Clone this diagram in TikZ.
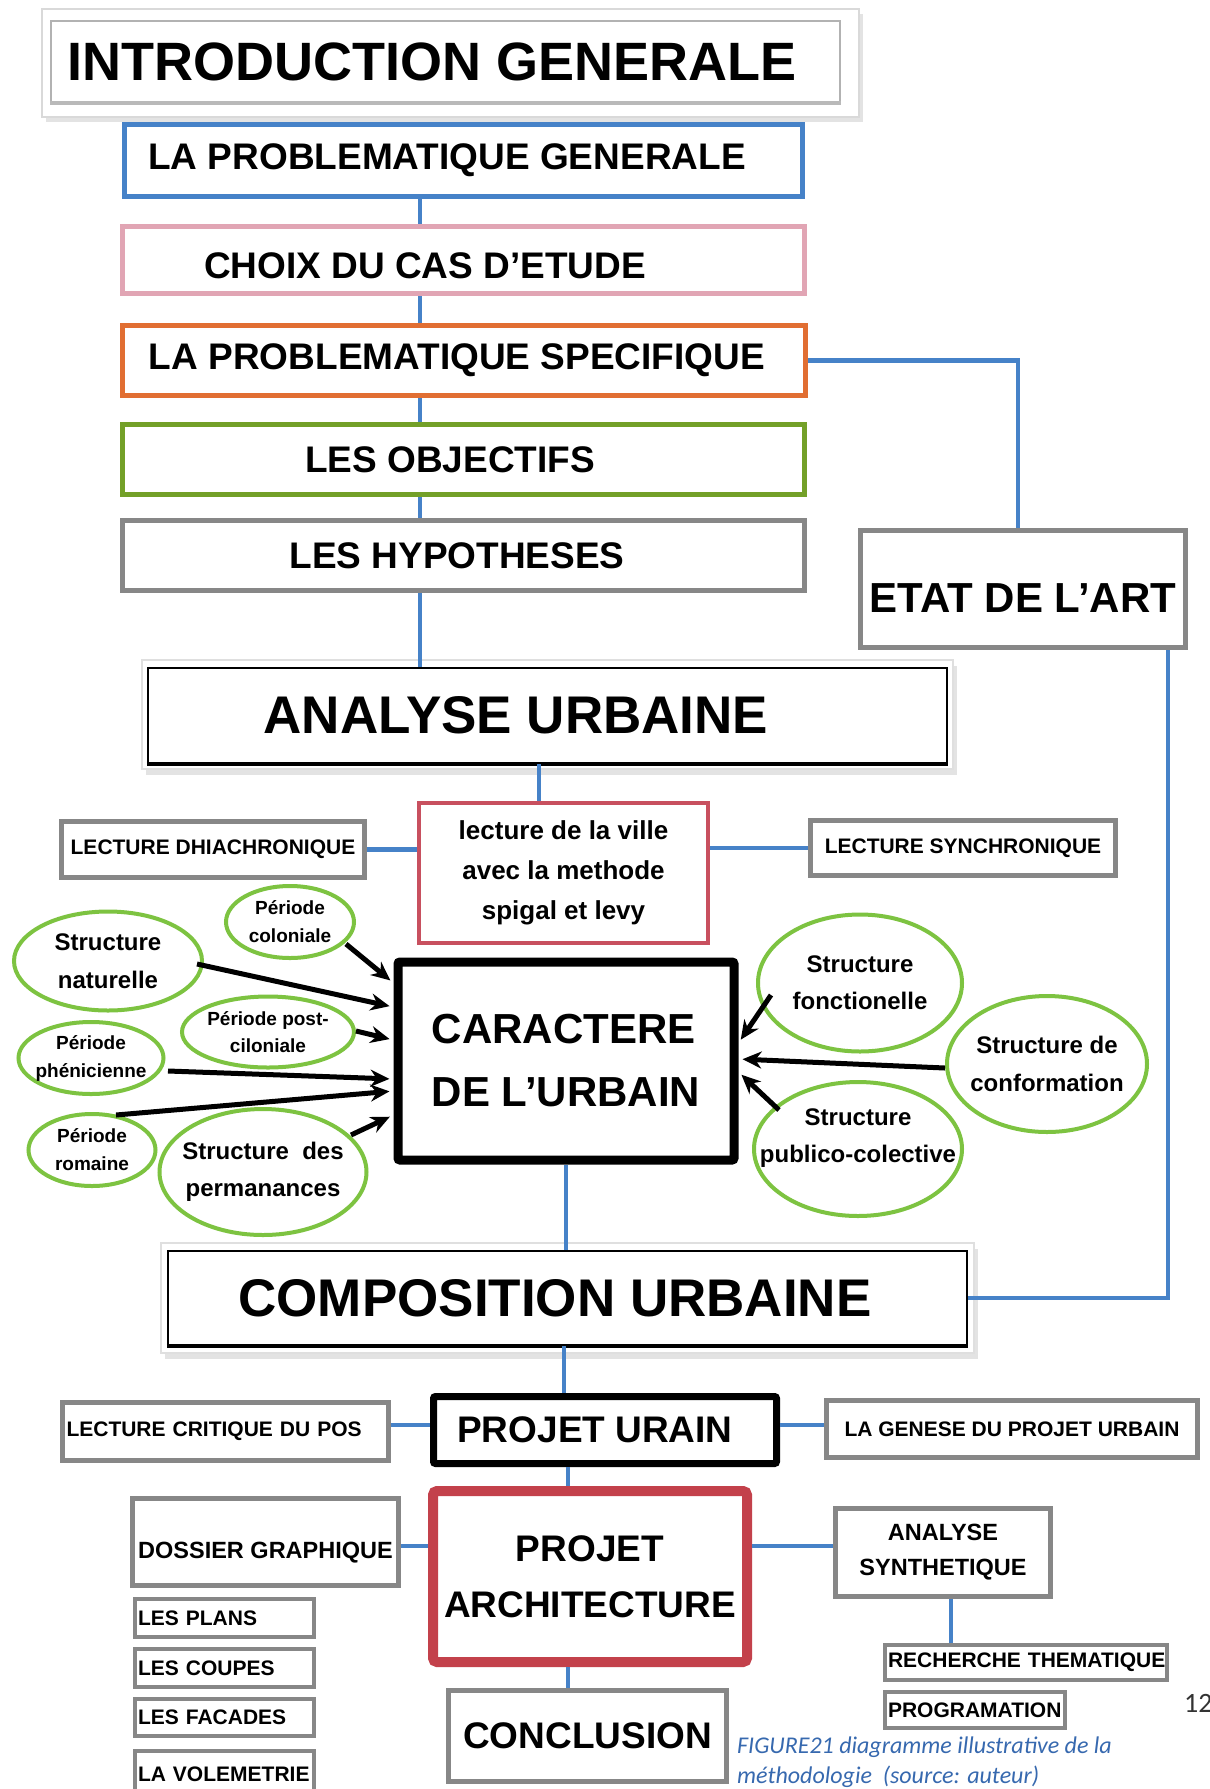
\documentclass[tikz,border=0pt]{standalone}
\usepackage{fontspec}
\setmainfont{Liberation Sans}
\newfontfamily\capfont{Carlito}
\usetikzlibrary{shapes.geometric,arrows.meta,calc}
\definecolor{cblue}{RGB}{70,130,200}
\definecolor{cpink}{RGB}{225,165,180}
\definecolor{corange}{RGB}{225,110,50}
\definecolor{cgreenb}{RGB}{115,160,40}
\definecolor{cgray}{RGB}{135,135,135}
\definecolor{credone}{RGB}{200,80,95}
\definecolor{credtwo}{RGB}{195,65,75}
\definecolor{cell}{RGB}{125,195,65}
\definecolor{ccap}{RGB}{55,105,175}
\newcommand{\myfs}[2]{\fontsize{#1}{#2}\selectfont}
\begin{document}
\begin{tikzpicture}[x=1pt,y=-1pt,
  bx/.style={rectangle,draw,fill=white,inner sep=0pt},
  link/.style={draw=cblue,line width=4.5pt},
  ell/.style={ellipse,draw=cell,line width=4pt,fill=white,inner xsep=-60pt,inner ysep=-20pt,align=center},
  arr/.style={line width=5pt,-{Stealth[length=19pt,width=17pt]},shorten >=4pt},
]
\useasboundingbox (0,0) rectangle (1210,1789);
\fill[white] (0,0) rectangle (1210,1789);

% ---------- top column ----------
\fill[gray!22] (46,14) rectangle (863,122);
\draw[gray!30,fill=white,line width=1.5pt] (42,9) rectangle (859,117);
\node[bx,draw=gray!60,line width=2pt,minimum width=789pt,minimum height=81pt,font=\bfseries\myfs{54}{60}] (intro) at (445.5,61.5) {INTRODUCTION GENERALE\hspace*{27pt}};
\draw[gray!55,line width=3.5pt] (intro.south west) -- (intro.south east);

\node[bx,draw=cblue,line width=5pt,minimum width=678pt,minimum height=72pt,font=\bfseries\myfs{37}{44}] (probgen) at (463.5,160.5) {LA PROBLEMATIQUE GENERALE\hspace*{33pt}};
\node[bx,draw=cpink,line width=5pt,minimum width=682pt,minimum height=67pt,text height=36.6pt,text depth=0pt,font=\bfseries\myfs{37}{44}] (choix) at (463.5,260) {CHOIX DU CAS D’ETUDE\hspace*{77pt}};
\node[bx,draw=corange,line width=5pt,minimum width=683pt,minimum height=70pt,font=\bfseries\myfs{37}{44}] (probspec) at (464,360.5) {LA PROBLEMATIQUE SPECIFIQUE\hspace*{14pt}};
\node[bx,draw=cgreenb,line width=5pt,minimum width=682pt,minimum height=70pt,font=\bfseries\myfs{37}{44}] (objectifs) at (463.5,459.5) {LES OBJECTIFS\hspace*{27pt}};
\node[bx,draw=cgray,line width=5pt,minimum width=682pt,minimum height=70pt,font=\bfseries\myfs{37}{44}] (hypo) at (463.5,555.5) {LES HYPOTHESES\hspace*{13pt}};
\node[bx,draw=cgray,line width=5pt,minimum width=325pt,minimum height=117pt,text height=46pt,text depth=0pt,font=\bfseries\myfs{42}{48}] (etat) at (1023,589) {ETAT DE L’ART};

% ---------- analyse urbaine ----------
\fill[gray!22] (146,666) rectangle (957,775);
\draw[gray!25,fill=white,line width=1.5pt] (142,660) rectangle (953,769);
\node[bx,draw=black,line width=2.5pt,minimum width=799pt,minimum height=95pt,font=\bfseries\myfs{53}{60}] (analyse) at (547.5,715.5) {ANALYSE URBAINE\hspace*{63pt}};
\draw[black,line width=4pt] (analyse.south west) -- (analyse.south east);

\node[bx,draw=credone,line width=4pt,minimum width=289pt,minimum height=140pt,align=center,font=\bfseries\myfs{26}{40}] (lecture) at (563.5,873) {lecture de la ville\\avec la methode\\spigal et levy};
\node[bx,draw=cgray,line width=5pt,minimum width=303pt,minimum height=56pt,font=\bfseries\myfs{21}{25}] (dhia) at (213,849.5) {LECTURE DHIACHRONIQUE};
\node[bx,draw=cgray,line width=5pt,minimum width=305pt,minimum height=55pt,font=\bfseries\myfs{21}{25}] (sync) at (963,848) {LECTURE SYNCHRONIQUE};

\node[bx,draw=black,line width=9pt,rounded corners=2pt,minimum width=336pt,minimum height=198pt,align=left,font=\bfseries\myfs{42}{63}] (car) at (566,1061) {CARACTERE\\DE L’URBAIN};

% ---------- ellipses ----------
\node[ell,minimum width=188pt,minimum height=99pt,font=\bfseries\myfs{24}{38}] (nat) at (108,961) {Structure\\naturelle};
\node[ell,minimum width=128pt,minimum height=72pt,font=\bfseries\myfs{19}{28}] (col) at (290,922) {Période\\coloniale};
\node[ell,minimum width=172pt,minimum height=71pt,font=\bfseries\myfs{19}{27}] (post) at (268,1032) {Période post-\\ciloniale};
\node[ell,minimum width=145pt,minimum height=72pt,font=\bfseries\myfs{19}{28}] (phen) at (91,1058) {Période\\phénicienne};
\node[ell,minimum width=127pt,minimum height=72pt,font=\bfseries\myfs{19}{28}] (rom) at (92,1150) {Période\\romaine};
\node[ell,minimum width=207pt,minimum height=126pt,font=\bfseries\myfs{24}{37}] (perm) at (263,1172) {Structure\ \ des\\permanances};
\node[ell,minimum width=204pt,minimum height=137pt,font=\bfseries\myfs{24}{37}] (fonc) at (860,983) {Structure\\fonctionelle};
\node[ell,minimum width=200pt,minimum height=136pt,font=\bfseries\myfs{24}{38}] (conf) at (1047,1064) {Structure de\\conformation};
\node[ell,minimum width=208pt,minimum height=134pt,font=\bfseries\myfs{24}{37}] (pub) at (858,1149) {Structure\\publico-colective\\[-10pt]\mbox{}};

% ---------- arrows ----------
\draw[arr] ([shift={(89,3)}]nat.center) -- ([shift={(0,-54)}]car.west);
\draw[arr] ([shift={(56,22)}]col.center) -- ([shift={(0,-78)}]car.west);
\draw[arr] ([shift={(88,-1)}]post.center) -- ([shift={(0,-21)}]car.west);
\draw[arr] ([shift={(77,13)}]phen.center) -- ([shift={(0,18)}]car.west);
\draw[arr] ([shift={(24,-35)}]rom.center) -- ([shift={(0,30)}]car.west);
\draw[arr] ([shift={(88,-37)}]perm.center) -- ([shift={(0,54)}]car.west);
\draw[arr] ([shift={(-89,12)}]fonc.center) -- ([shift={(0,-18)}]car.east);
\draw[arr] ([shift={(-102,4)}]conf.center) -- ([shift={(0,-2)}]car.east);
\draw[arr] ([shift={(-79,-39)}]pub.center) -- ([shift={(0,11)}]car.east);

% ---------- composition ----------
\fill[gray!22] (165,1249) rectangle (978,1359);
\draw[gray!25,fill=white,line width=1.5pt] (161,1243) rectangle (974,1353);
\node[bx,draw=black,line width=2.5pt,minimum width=799pt,minimum height=94pt,font=\bfseries\myfs{53}{60}] (compo) at (567.5,1298) {COMPOSITION URBAINE\hspace*{25pt}};
\draw[black,line width=4pt] (compo.south west) -- (compo.south east);

\node[bx,draw=black,line width=7pt,rounded corners=2pt,minimum width=343pt,minimum height=67pt,font=\bfseries\myfs{37}{44}] (urain) at (605,1430) {PROJET URAIN\hspace*{20pt}};
\node[bx,draw=cgray,line width=5pt,minimum width=326pt,minimum height=58pt,text width=318pt,inner xsep=4pt,align=left,font=\bfseries\myfs{21}{25}] (crit) at (225.5,1431.5) {\mbox{LECTURE CRITIQUE DU POS}};
\node[bx,draw=cgray,line width=5pt,minimum width=371pt,minimum height=57pt,font=\bfseries\myfs{21}{25}] (genese) at (1012,1429) {LA GENESE DU PROJET URBAIN};

\node[bx,draw=credtwo,line width=10pt,rounded corners=4pt,minimum width=314pt,minimum height=171pt,align=center,font=\bfseries\myfs{37}{56}] (archi) at (590,1576.5) {PROJET\\ARCHITECTURE};
\node[bx,draw=cgray,line width=5pt,minimum width=266pt,minimum height=87pt,text height=33pt,text depth=0pt,font=\bfseries\myfs{23.5}{28}] (dossier) at (265.5,1542) {DOSSIER GRAPHIQUE};
\node[bx,draw=cgray,line width=4pt,minimum width=179pt,minimum height=38pt,text width=173pt,inner xsep=3pt,align=left,font=\bfseries\myfs{21}{25}] (plans) at (224.5,1618) {\mbox{LES PLANS}};
\node[bx,draw=cgray,line width=4pt,minimum width=179pt,minimum height=38pt,text width=173pt,inner xsep=3pt,align=left,font=\bfseries\myfs{21}{25}] (coupes) at (224.5,1668) {\mbox{LES COUPES}};
\node[bx,draw=cgray,line width=4pt,minimum width=179pt,minimum height=37pt,text width=173pt,inner xsep=3pt,align=left,font=\bfseries\myfs{21}{25}] (facades) at (224.5,1717.5) {\mbox{LES FACADES}};
\node[bx,draw=cgray,line width=4pt,minimum width=179pt,minimum height=46pt,text width=173pt,inner xsep=3pt,align=left,font=\bfseries\myfs{21}{25}] (volem) at (224.5,1774) {\mbox{LA VOLEMETRIE}};

\node[bx,draw=cgray,line width=5pt,minimum width=215pt,minimum height=88pt,align=center,font=\bfseries\myfs{23.5}{35}] (synth) at (943,1552.5) {ANALYSE\\SYNTHETIQUE};
\node[bx,draw=cgray,line width=4pt,minimum width=282pt,minimum height=35pt,text width=276pt,inner xsep=3pt,align=left,font=\bfseries\myfs{21}{25}] (rech) at (1026,1662.5) {\mbox{RECHERCHE THEMATIQUE}};
\node[bx,draw=cgray,line width=4pt,minimum width=180pt,minimum height=36pt,text width=174pt,inner xsep=3pt,align=left,font=\bfseries\myfs{21}{25}] (prog) at (975,1710) {\mbox{PROGRAMATION}};
\node[bx,draw=cgray,line width=5pt,minimum width=278pt,minimum height=91pt,font=\bfseries\myfs{37}{44}] (concl) at (587.5,1736) {CONCLUSION};

\node[anchor=west,inner sep=0pt,align=left,text=ccap,font=\capfont\itshape\myfs{24}{30}] (caption) at (737,1762) {FIGURE21 diagramme illustrative de la\\méthodologie\ \ (source: auteur)};
\node[anchor=west,inner sep=0pt,text=black!80,font=\capfont\myfs{28}{30}] (pagenum) at (1184,1703) {12};

% ---------- blue connectors ----------
\coordinate (spine) at (420,0);
\draw[link] (probgen.south -| spine) -- (choix.north -| spine);
\draw[link] (choix.south -| spine) -- (probspec.north -| spine);
\draw[link] (probspec.south -| spine) -- (objectifs.north -| spine);
\draw[link] (objectifs.south -| spine) -- (hypo.north -| spine);
\draw[link] (hypo.south -| spine) -- (analyse.north -| spine);
\draw[link] (probspec.east) -| ([xshift=-5pt]etat.north);
\draw[link] ([xshift=-20pt]etat.south east) |- (compo.east);
\coordinate (lx) at (539,0);
\draw[link] (analyse.south -| lx) -- (lecture.north -| lx);
\draw[link] (dhia.east) -- (dhia.east -| lecture.west);
\draw[link] (lecture.east |- sync.west) -- (sync.west);
\draw[link] (car.south) -- (car.south |- compo.north);
\coordinate (cx) at (564,0);
\draw[link] (compo.south -| cx) -- (urain.north -| cx);
\coordinate (ux) at (568,0);
\draw[link] (urain.south -| ux) -- (archi.north -| ux);
\draw[link] (archi.south -| ux) -- (concl.north -| ux);
\coordinate (uy) at (0,1425);
\draw[link] (crit.east |- uy) -- (urain.west |- uy);
\draw[link] (urain.east |- uy) -- (genese.west |- uy);
\coordinate (ay) at (0,1546);
\draw[link] (dossier.east |- ay) -- (archi.west |- ay);
\draw[link] (archi.east |- ay) -- (synth.west |- ay);
\coordinate (sx) at (951,0);
\draw[link] (synth.south -| sx) -- (rech.north -| sx);
\end{tikzpicture}
\end{document}
